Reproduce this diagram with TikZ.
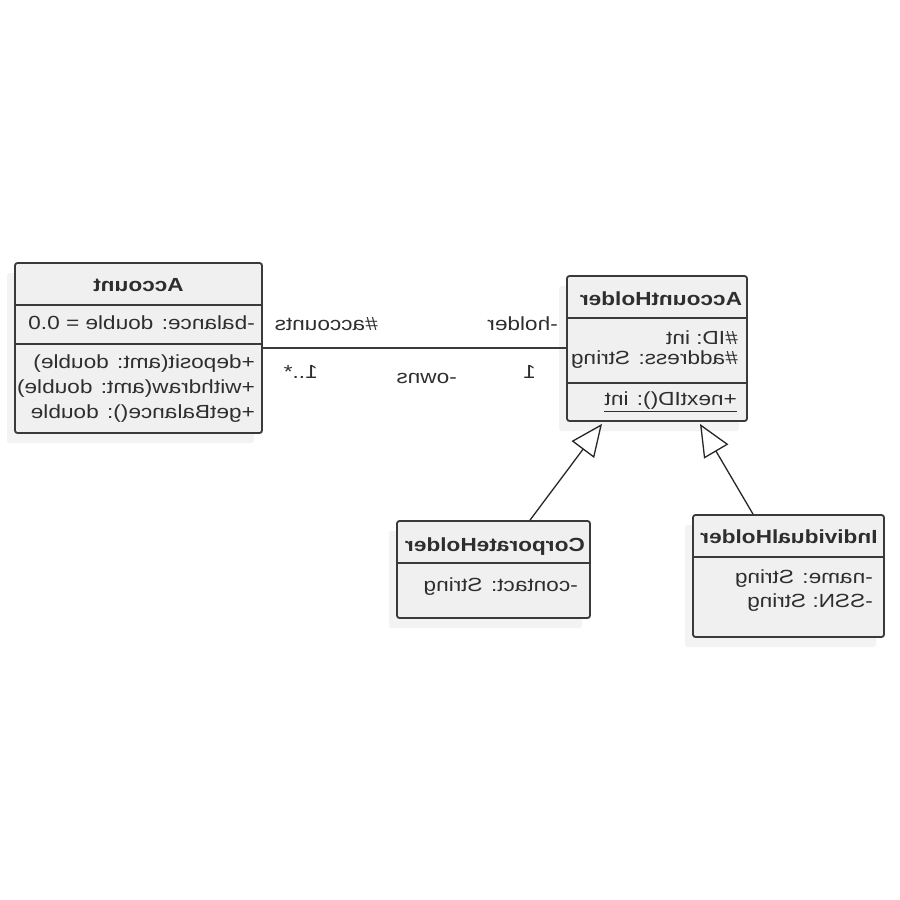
\documentclass[tikz,border=0pt]{standalone}
\usepackage{fontspec}
\setmainfont{Liberation Sans}
\usepackage{graphicx}
\usetikzlibrary{arrows.meta,calc,shadows}

\definecolor{ink}{HTML}{2E2E2E}
\definecolor{edge}{HTML}{3A3A3A}
\definecolor{boxfill}{HTML}{F0F0F0}
\definecolor{halo}{HTML}{F3F3F3}

% mirrored, slightly widened text
\newcommand\mir[1]{\scalebox{-1.19}[1]{#1}}

\begin{document}
\begin{tikzpicture}[x=1pt,y=-1pt,
  classbox/.style={draw=edge, line width=1.8pt, fill=boxfill, rounded corners=2.5pt,
    inner sep=0pt,
    drop shadow={shadow xshift=-8pt, shadow yshift=-10pt, fill=halo, opacity=1}},
  divider/.style={draw=edge, line width=1.8pt},
  header/.style={font=\fontsize{19}{22}\selectfont\bfseries, text=ink, inner sep=0pt, anchor=base},
  member/.style={font=\fontsize{19}{22}\selectfont, text=ink, inner sep=0pt, anchor=base east},
  assoc/.style={draw=edge, line width=1.6pt},
  gen/.style={draw=black!85, line width=1.3pt,
    -{Triangle[open, length=32pt, width=28pt, line width=1.3pt]}}
]
\useasboundingbox (0,0) rectangle (900,900);

% class boxes
\node[classbox, minimum width=247pt, minimum height=170pt] (account) at (138.5,348) {};
\node[classbox, minimum width=180pt, minimum height=145pt] (holder)  at (657,348.5) {};
\node[classbox, minimum width=193pt, minimum height=97pt]  (corp)    at (493.5,569.5) {};
\node[classbox, minimum width=191pt, minimum height=122pt] (indiv)   at (788.5,576) {};

% compartments
\draw[divider] (15,305) -- (262,305);
\draw[divider] (15,344) -- (262,344);
\draw[divider] (567,318) -- (747,318);
\draw[divider] (567,383) -- (747,383);
\draw[divider] (397,563) -- (590,563);
\draw[divider] (693,557) -- (884,557);

% Account
\node[header] (accountName) at (138.5,291) {\mir{Account}};
\node[member] (accBalance)  at (255,329.5) {\mir{-balance: double = 0.0}};
\node[member] (accDeposit)  at (255,368)   {\mir{+deposit(amt: double)}};
\node[member] (accWithdraw) at (255,393)   {\mir{+withdraw(amt: double)}};
\node[member] (accGet)      at (255,418)   {\mir{+getBalance(): double}};

% AccountHolder
\node[header] (holderName) at (661,305) {\mir{AccountHolder}};
\node[member] (holderID)   at (738,344) {\mir{\#ID: int}};
\node[member] (holderAddr) at (738,364) {\mir{\#address: String}};
\node[member] (holderNext) at (737,405.5) {\mir{+nextID(): int}};
\draw[ink, line width=1.4pt] ($(holderNext.base west)+(0,6)$) -- ($(holderNext.base east)+(0,6)$);

% CorporateHolder
\node[header] (corpName)    at (495,551.5) {\mir{CorporateHolder}};
\node[member] (corpContact) at (578,591.5) {\mir{-contact: String}};

% IndividualHolder
\node[header] (indivName) at (789,543) {\mir{IndividualHolder}};
\node[member] (indivNm)   at (873,583) {\mir{-name: String}};
\node[member] (indivSSN)  at (873,607) {\mir{-SSN: String}};

% association
\draw[assoc] (account.east) -- (account.east -| holder.west);
\node[member] (roleAcc)   at (378,330) {\mir{\#accounts}};
\node[member] (roleHold)  at (558,330) {\mir{-holder}};
\node[member] (multAcc)   at (318,378) {\mir{1..*}};
\node[member] (multHold)  at (536,378) {\mir{1}};
\node[member] (assocName) at (457,383) {\mir{-owns}};

% generalizations
\draw[gen] ($(corp.north)+(36.5,0)$)   -- ($(holder.south)+(-55,2)$);
\draw[gen] ($(indiv.north)+(-35.5,0)$) -- ($(holder.south)+(43,2)$);
\end{tikzpicture}
\end{document}
